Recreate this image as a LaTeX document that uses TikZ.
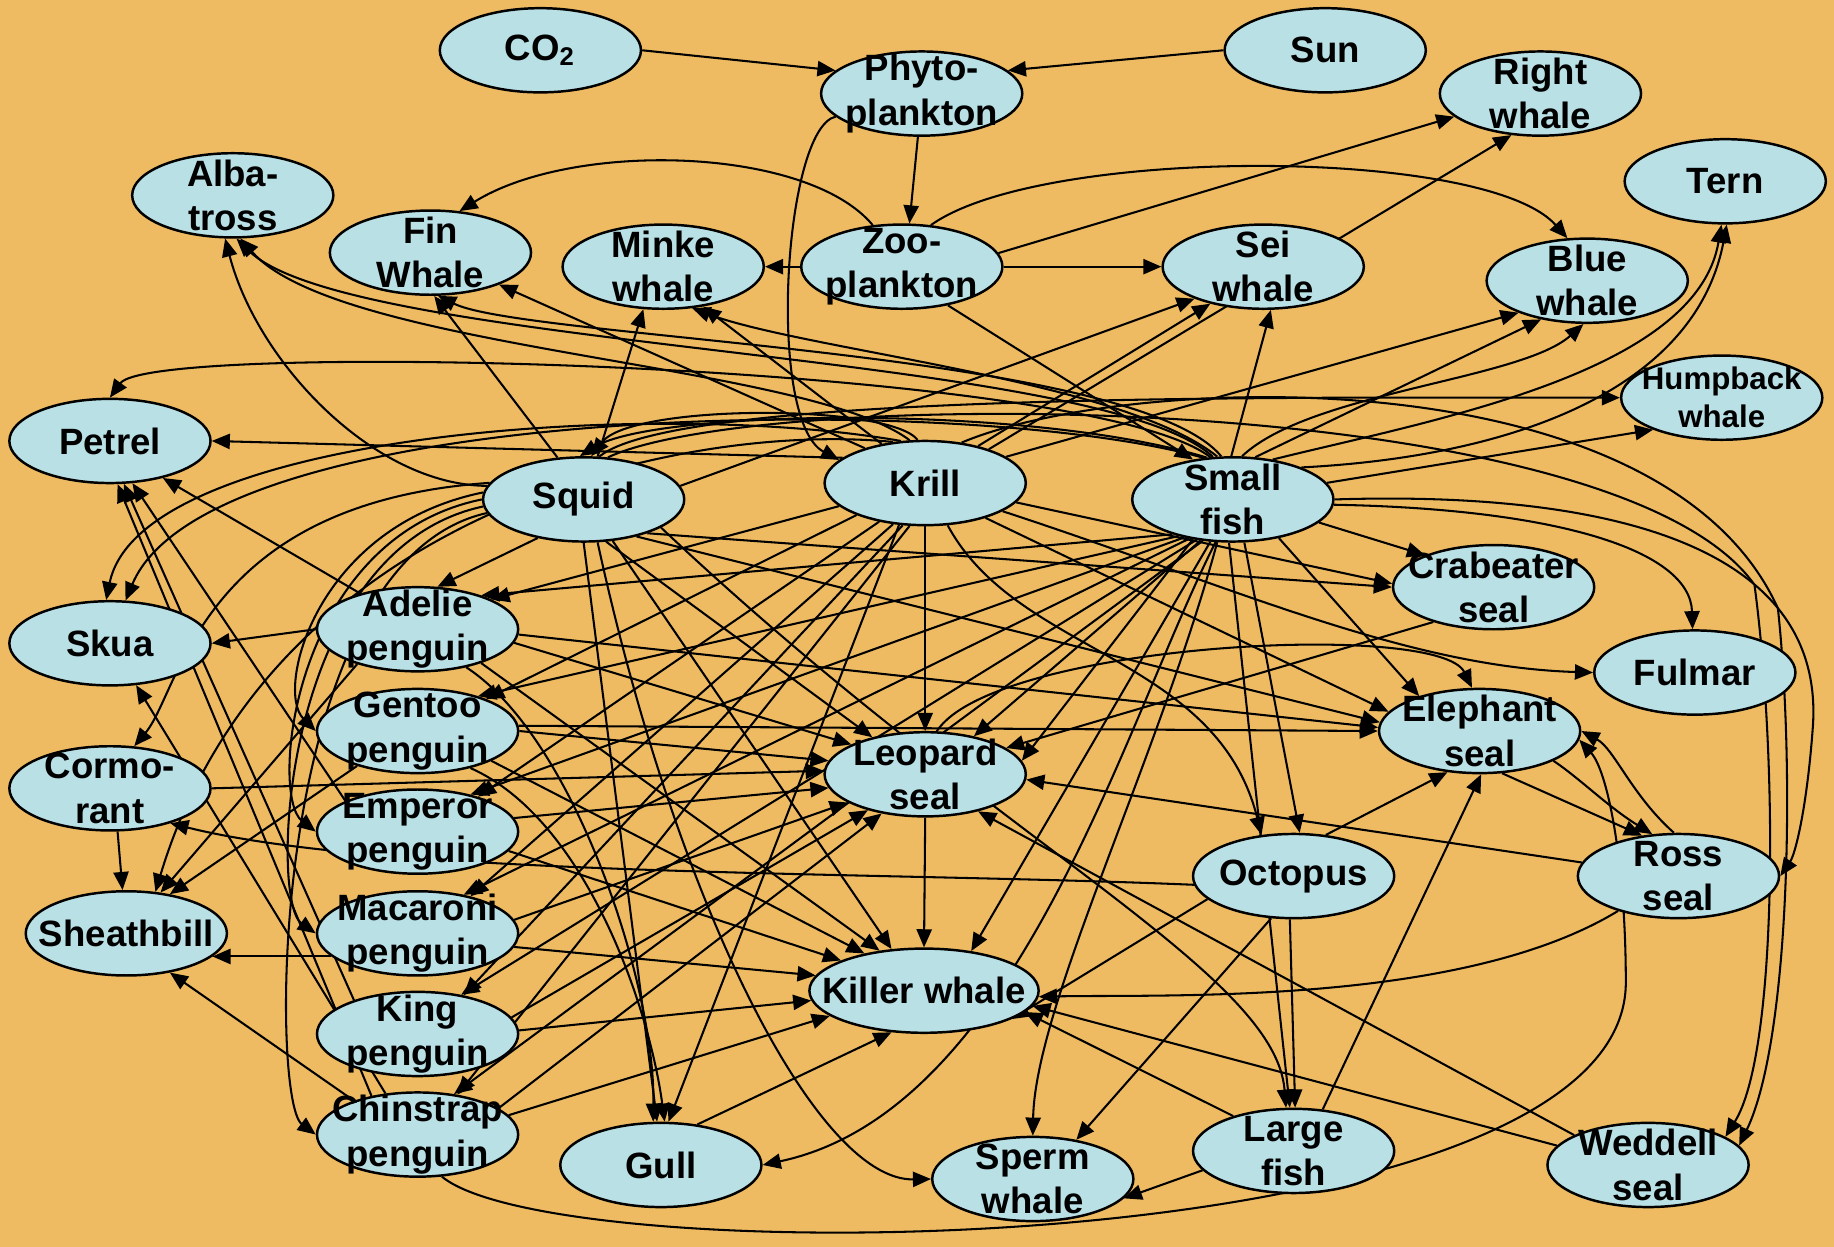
\documentclass[tikz,border=0pt]{standalone}
\usepackage{fontspec}
\setmainfont{Liberation Sans}
\usetikzlibrary{shapes.geometric,arrows.meta}
\definecolor{bgtan}{RGB}{238,187,98}
\definecolor{nodeblue}{RGB}{185,224,229}
\pgfdeclarelayer{bg}
\pgfsetlayers{bg,main}
\begin{document}
\begin{tikzpicture}[
  >={Triangle[length=4.4pt,width=3.7pt]},
  sp/.style={ellipse,draw,line width=0.6pt,fill=nodeblue,minimum width=1.72cm,minimum height=0.72cm,
    inner xsep=-1.2cm,inner ysep=-0.6cm,align=center,font=\bfseries\fontsize{8.9}{10.8}\selectfont}]
\useasboundingbox (0,0) rectangle (15.68,-10.66);
% species
\node[sp] (co2) at (4.62,-0.43) {CO\textsubscript{2}};
\node[sp] (sun) at (11.33,-0.43) {Sun};
\node[sp] (phyto) at (7.88,-0.80) {Phyto-\\plankton};
\node[sp] (right) at (13.17,-0.80) {Right\\whale};
\node[sp] (tern) at (14.75,-1.55) {Tern};
\node[sp] (alba) at (1.99,-1.67) {Alba-\\tross};
\node[sp] (fin) at (3.68,-2.16) {Fin\\Whale};
\node[sp] (minke) at (5.67,-2.28) {Minke\\whale};
\node[sp] (zoo) at (7.71,-2.28) {Zoo-\\plankton};
\node[sp] (sei) at (10.80,-2.28) {Sei\\whale};
\node[sp] (blue) at (13.57,-2.40) {Blue\\whale};
\node[sp,font=\bfseries\fontsize{7.6}{9.2}\selectfont] (hump) at (14.72,-3.40) {Humpback\\whale};
\node[sp] (petrel) at (0.94,-3.77) {Petrel};
\node[sp] (squid) at (4.99,-4.27) {Squid};
\node[sp] (krill) at (7.91,-4.13) {Krill};
\node[sp] (sfish) at (10.54,-4.27) {Small\\fish};
\node[sp] (crab) at (12.77,-5.02) {Crabeater\\seal};
\node[sp] (skua) at (0.94,-5.50) {Skua};
\node[sp] (adelie) at (3.57,-5.38) {Adelie\\penguin};
\node[sp] (fulmar) at (14.49,-5.75) {Fulmar};
\node[sp] (gentoo) at (3.57,-6.25) {Gentoo\\penguin};
\node[sp] (eleph) at (12.65,-6.25) {Elephant\\seal};
\node[sp] (leopard) at (7.91,-6.62) {Leopard\\seal};
\node[sp] (cormo) at (0.94,-6.74) {Cormo-\\rant};
\node[sp] (emperor) at (3.57,-7.11) {Emperor\\penguin};
\node[sp] (octo) at (11.06,-7.49) {Octopus};
\node[sp] (ross) at (14.35,-7.49) {Ross\\seal};
\node[sp] (sheath) at (1.08,-7.98) {Sheathbill};
\node[sp] (macaroni) at (3.57,-7.98) {Macaroni\\penguin};
\node[sp] (king) at (3.57,-8.84) {King\\penguin};
\node[sp,minimum width=1.96cm] (killer) at (7.90,-8.47) {Killer whale};
\node[sp] (chin) at (3.57,-9.70) {Chinstrap\\penguin};
\node[sp] (gull) at (5.65,-9.96) {Gull};
\node[sp] (sperm) at (8.83,-10.08) {Sperm\\whale};
\node[sp] (lfish) at (11.06,-9.84) {Large\\fish};
\node[sp] (weddell) at (14.09,-9.96) {Weddell\\seal};
\begin{pgfonlayer}{bg}
\fill[bgtan] (0,0) rectangle (15.68,-10.66);
\begin{scope}[line width=0.5pt]
% plankton
\draw[->] (co2.east) -- (phyto.165);
\draw[->] (sun.west) -- (phyto.15);
\draw[->] (phyto.-95) -- (zoo.80);
\draw[->] (phyto.195) .. controls (6.7,-1.1) and (6.55,-3.6) .. (krill.165);
\draw[->] (zoo.125) .. controls (6.9,-1.25) and (4.9,-1.2) .. (fin.55);
\draw[->] (zoo.west) -- (minke.east);
\draw[->] (zoo.east) -- (sei.west);
\draw[->] (zoo.8) -- (right.195);
\draw[->] (zoo.55) .. controls (8.9,-1.25) and (12.7,-1.25) .. (blue.115);
\draw[->] (zoo.-40) -- (sfish.135);
% krill
\draw[->] (krill.150) -- (fin.-25);
\draw[->] (krill.138) -- (minke.-45);
\draw[->] (krill.35) -- (sei.215);
\draw[->] (krill.28) -- (right.235);
\draw[->] (krill.18) -- (blue.205);
\draw[->] (krill.100) .. controls (7.6,-3.45) and (5.4,-3.45) .. (squid.80);
\draw[->] (krill.110) .. controls (6.9,-3.1) and (2.9,-3.0) .. (alba.-80);
\draw[->] (krill.163) -- (petrel.east);
\draw[->] (krill.120) .. controls (5.6,-3.4) and (1.2,-3.7) .. (skua.95);
\draw[->] (krill.128) .. controls (5.8,-3.6) and (2.3,-4.4) .. (sheath.55);
\draw[->] (krill.-165) -- (adelie.22);
\draw[->] (krill.-155) -- (gentoo.25);
\draw[->] (krill.-140) -- (emperor.30);
\draw[->] (krill.-128) -- (macaroni.35);
\draw[->] (krill.-118) -- (king.40);
\draw[->] (krill.-110) -- (chin.45);
\draw[->] (krill.-122) -- (gull.80);
\draw[->] (krill.-90) -- (leopard.90);
\draw[->] (krill.-12) -- (crab.178);
\draw[->] (krill.-30) -- (eleph.168);
\draw[->] (krill.-20) .. controls (10.5,-5.0) and (12.0,-5.7) .. (fulmar.west);
\draw[->] (krill.-62) .. controls (8.7,-5.6) and (10.4,-5.6) .. (octo.128);
\draw[->] (krill.48) .. controls (9.6,-3.2) and (14.2,-3.0) .. (15.2,-5.2) .. controls (15.35,-6.6) and (15.3,-8.9) .. (weddell.12);
% small fish
\draw[->] (sfish.92) -- (sei.-80);
\draw[->] (sfish.62) -- (blue.220);
\draw[->] (sfish.78) .. controls (11.2,-3.35) and (13.0,-3.25) .. (blue.-95);
\draw[->] (sfish.10) -- (hump.205);
\draw[->] (sfish.45) .. controls (12.2,-3.6) and (14.5,-3.2) .. (tern.-95);
\draw[->] (sfish.25) .. controls (13.0,-3.9) and (14.5,-3.3) .. (tern.-88);
\draw[->] (sfish.105) .. controls (9.7,-3.0) and (4.5,-2.9) .. (fin.-80);
\draw[->] (sfish.110) .. controls (9.6,-3.25) and (6.9,-3.0) .. (minke.-55);
\draw[->] (sfish.115) .. controls (9.4,-3.0) and (3.0,-3.0) .. (alba.-85);
\draw[->] (sfish.118) .. controls (9.3,-3.1) and (1.3,-2.9) .. (petrel.north);
\draw[->] (sfish.122) .. controls (8.8,-3.45) and (5.6,-3.5) .. (squid.95);
\draw[->] (sfish.125) .. controls (8.3,-3.35) and (1.8,-3.4) .. (skua.70);
\draw[->] (sfish.-15) -- (crab.155);
\draw[->] (sfish.-3) .. controls (13.3,-4.35) and (14.45,-4.7) .. (fulmar.93);
\draw[->] (sfish.0) .. controls (13.6,-4.2) and (15.6,-4.6) .. (15.5,-6.2) .. controls (15.45,-6.9) and (15.35,-7.3) .. (ross.east);
\draw[->] (sfish.-40) -- (eleph.150);
\draw[->] (sfish.-75) -- (octo.82);
\draw[->] (sfish.-95) -- (lfish.95);
\draw[->] (sfish.-110) .. controls (9.9,-6.5) and (8.85,-8.6) .. (sperm.90);
\draw[->] (sfish.-118) -- (killer.40);
\draw[->] (sfish.-112) .. controls (9.6,-6.2) and (8.7,-9.5) .. (gull.east);
\draw[->] (sfish.-128) -- (leopard.38);
\draw[->] (sfish.-135) -- (leopard.8);
\draw[->] (sfish.-150) -- (adelie.28);
\draw[->] (sfish.-146) -- (gentoo.30);
\draw[->] (sfish.-142) -- (emperor.35);
\draw[->] (sfish.-138) -- (macaroni.40);
\draw[->] (sfish.-132) -- (king.42);
\draw[->] (sfish.-126) -- (chin.48);
% squid
\draw[->] (squid.122) -- (fin.-85);
\draw[->] (squid.72) -- (minke.-115);
\draw[->] (squid.172) .. controls (3.2,-4.15) and (2.2,-3.1) .. (alba.-100);
\draw[->] (squid.8) -- (sei.205);
\draw[->] (squid.70) .. controls (5.8,-3.35) and (11,-3.4) .. (hump.west);
\draw[->] (squid.60) .. controls (6.5,-3.3) and (13.8,-3.3) .. (15.0,-5.0) .. controls (15.2,-6.5) and (15.2,-9.0) .. (weddell.20);
\draw[->] (squid.-140) -- (adelie.65);
\draw[->] (squid.176) .. controls (2.7,-4.5) and (2.35,-5.9) .. (gentoo.west);
\draw[->] (squid.180) .. controls (2.5,-4.6) and (2.3,-6.8) .. (emperor.west);
\draw[->] (squid.184) .. controls (2.4,-4.7) and (2.3,-7.7) .. (macaroni.west);
\draw[->] (squid.188) .. controls (2.3,-4.8) and (2.3,-9.4) .. (chin.west);
\draw[->] (squid.170) .. controls (1.7,-4.3) and (1.55,-5.9) .. (cormo.60);
\draw[->] (squid.-90) -- (gull.95);
\draw[->] (squid.-62) -- (leopard.145);
\draw[->] (squid.-55) -- (killer.128);
\draw[->] (squid.-72) .. controls (5.8,-7.8) and (7.0,-10.1) .. (sperm.west);
\draw[->] (squid.-28) -- (crab.west);
\draw[->] (squid.-35) -- (eleph.175);
\draw[->] (squid.-20) .. controls (8.5,-7.2) and (10.9,-8.3) .. (lfish.100);
% penguins
\draw[->] (adelie.west) -- (skua.east);
\draw[->] (adelie.148) -- (petrel.-35);
\draw[->] (adelie.-150) -- (sheath.50);
\draw[->] (adelie.-8) -- (leopard.158);
\draw[->] (adelie.-3) -- (eleph.178);
\draw[->] (adelie.-28) -- (killer.138);
\draw[->] (adelie.-38) .. controls (4.9,-6.3) and (5.6,-8.4) .. (gull.100);
\draw[->] (gentoo.east) -- (leopard.172);
\draw[->] (gentoo.3) -- (eleph.west);
\draw[->] (gentoo.-150) -- (sheath.42);
\draw[->] (gentoo.-22) -- (killer.148);
\draw[->] (gentoo.-35) .. controls (5.0,-7.0) and (5.55,-8.6) .. (gull.85);
\draw[->] (emperor.157) -- (petrel.-62);
\draw[->] (emperor.8) -- (leopard.188);
\draw[->] (emperor.-12) -- (killer.160);
\draw[->] (macaroni.-165) -- (sheath.-15);
\draw[->] (macaroni.8) -- (leopard.200);
\draw[->] (macaroni.-8) -- (killer.172);
\draw[->] (king.152) -- (petrel.-72);
\draw[->] (king.10) -- (leopard.212);
\draw[->] (king.2) -- (killer.185);
\draw[->] (chin.128) -- (skua.-58);
\draw[->] (chin.140) -- (petrel.-80);
\draw[->] (chin.152) -- (sheath.-42);
\draw[->] (chin.18) -- (leopard.222);
\draw[->] (chin.12) -- (killer.195);
\draw[->] (chin.-60) .. controls (4.8,-10.9) and (13.9,-10.8) .. (13.9,-8.4) .. controls (13.9,-7.4) and (13.75,-6.6) .. (eleph.-5);
% birds, seals and the rest
\draw[->] (cormo.-80) -- (sheath.95);
\draw[->] (cormo.east) -- (leopard.178);
\draw[->] (octo.185) .. controls (7.5,-7.45) and (3.3,-7.5) .. (cormo.-30);
\draw[->] (leopard.-90) -- (killer.90);
\draw[->] (leopard.75) .. controls (8.5,-5.5) and (12.3,-5.3) .. (eleph.100);
\draw[->] (gull.48) -- (killer.-128);
\draw[->] (crab.-150) -- (leopard.18);
\draw[->] (ross.172) -- (leopard.-3);
\draw[->] (ross.-150) .. controls (12.5,-8.6) and (10,-8.5) .. (killer.-3);
\draw[->] (weddell.158) -- (leopard.-35);
\draw[->] (weddell.168) -- (killer.-8);
\draw[->] (lfish.150) -- (killer.-12);
\draw[->] (lfish.-168) -- (sperm.-12);
\draw[->] (lfish.55) -- (eleph.-88);
\draw[->] (octo.-95) -- (lfish.88);
\draw[->] (octo.-118) -- (sperm.42);
\draw[->] (octo.52) -- (eleph.-128);
\draw[->] (octo.-165) -- (killer.-18);
\draw[->] (eleph.-62) -- (ross.132);
\draw[->] (eleph.-22) .. controls (13.5,-6.65) and (13.75,-6.9) .. (ross.122);
\draw[->] (ross.96) .. controls (13.95,-6.8) and (13.8,-6.4) .. (eleph.east);
\end{scope}
\end{pgfonlayer}
\end{tikzpicture}
\end{document}
